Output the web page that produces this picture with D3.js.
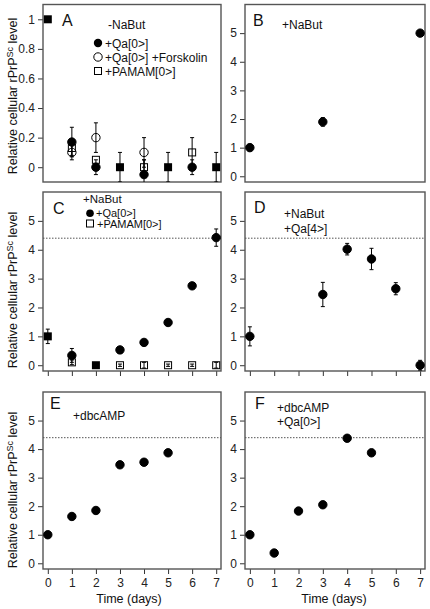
<!DOCTYPE html>
<html><head><meta charset="utf-8">
<script src="https://cdn.jsdelivr.net/npm/d3@7"></script>
<style>body{margin:0;background:#fff}svg{display:block;font-family:"Liberation Sans",Arial,sans-serif}</style>
</head><body><svg id="c" width="430" height="609"></svg>
<script>
const days = [0,1,2,3,4,5,6,7];
const ticksA = [0,0.2,0.4,0.6,0.8,1];
const tickLabelsA = ["0","0.2","0.4","0.6","0.8","1"];
const ticks6 = [0,1,2,3,4,5];
const refLevel = 4.4;

// Panel A (-NaBut)
const A_ctrl = [1.0,null,null,0,null,0,null,0];
const A_ctrlErr = [0,null,null,0.1,null,0.1,null,0.1];
const A_qa = [null,0.17,0,null,-0.05,null,0,null];
const A_qaErr = [null,0.1,0.05,null,0.1,null,0.05,null];
const A_forsk = [null,0.10,0.20,null,0.10,null,null,null];
const A_forskErr = [null,0.05,0.1,null,0.1,null,null,null];
const A_pamam = [null,0.13,0.05,null,0,null,0.10,null];
const A_pamamErr = [null,0.05,0,null,0.05,null,0.1,null];
// Panel B (+NaBut)
const B_vals = [1.0,null,null,1.9,null,null,null,5.0];
const B_err = [0.12,null,null,0.15,null,null,null,0];
// Panel C
const C_ctrl = [1.0,null,0,null,null,null,null,null];
const C_ctrlErr = [0.25,null,0,null,null,null,null,null];
const C_qa = [null,0.34,null,0.53,0.79,1.48,2.75,4.42];
const C_qaErr = [null,0.24,null,0,0,0,0,0.3];
const C_pamam = [null,0.1,null,0,0,0,0,0];
const C_pamamErr = [null,0.08,null,0.04,0.1,0.04,0.04,0.1];
// Panel D
const D_vals = [1.0,null,null,2.45,4.02,3.68,2.65,0];
const D_err = [0.33,null,null,0.42,0.2,0.37,0.21,0.17];
// Panel E
const E_vals = [1.0,1.64,1.85,3.45,3.54,3.87,null,null];
// Panel F
const F_vals = [1.0,0.36,1.83,2.05,4.38,3.87,null,null];

const svg = d3.select("#c");
const cols = [[43,221],[245,425]];
const rows = [[4.5,182],[192,371],[392,569]];

function panel(ci, ri, yDomain, yTicks, yLabels, showXTicks, showXLabels){
  const [x0,x1] = cols[ci], [y0,y1] = rows[ri];
  const x = d3.scaleLinear().domain([-0.2,7.2]).range([x0,x1]);
  const y = d3.scaleLinear().domain(yDomain).range([y1,y0]);
  const g = svg.append("g");
  const yAx = d3.axisLeft(y).tickValues(yTicks).tickFormat((d,i)=>yLabels[i]).tickSize(5).tickPadding(3);
  const ga = g.append("g").attr("transform",`translate(${x0},0)`).call(yAx);
  ga.select(".domain").remove();
  ga.selectAll("line").attr("stroke","#333");
  ga.selectAll("text").attr("font-size",12).attr("fill","#222").attr("font-family","Liberation Sans, Arial");
  if(showXTicks){
    const xAx = d3.axisBottom(x).tickValues(days).tickSize(5).tickPadding(4).tickFormat(showXLabels? d3.format("d") : ()=>"");
    const gx = g.append("g").attr("transform",`translate(0,${y1})`).call(xAx);
    gx.select(".domain").remove();
    gx.selectAll("line").attr("stroke","#333");
    gx.selectAll("text").attr("font-size",12).attr("fill","#222").attr("font-family","Liberation Sans, Arial");
  }
  g.append("rect").attr("x",x0).attr("y",y0).attr("width",x1-x0).attr("height",y1-y0)
    .attr("fill","none").attr("stroke","#555").attr("stroke-width",1.4);
  const clip = "clip"+ci+ri;
  svg.append("clipPath").attr("id",clip).append("rect").attr("x",x0).attr("y",y0).attr("width",x1-x0).attr("height",y1-y0);
  const inner = g.append("g").attr("clip-path",`url(#${clip})`);
  return {x,y,g,inner};
}

function errbars(p, vals, errs){
  days.forEach((d,i)=>{
    if(vals[i]==null || !errs || !errs[i]) return;
    const cx = p.x(d), yt = p.y(vals[i]+errs[i]), yb = p.y(vals[i]-errs[i]);
    p.inner.append("line").attr("x1",cx).attr("x2",cx).attr("y1",yt).attr("y2",yb).attr("stroke","#000").attr("stroke-width",1);
    [yt,yb].forEach(yy=>p.inner.append("line").attr("x1",cx-2).attr("x2",cx+2).attr("y1",yy).attr("y2",yy).attr("stroke","#000").attr("stroke-width",1));
  });
}
function circles(p, vals, filled, r){
  days.forEach((d,i)=>{
    if(vals[i]==null) return;
    p.inner.append("circle").attr("cx",p.x(d)).attr("cy",p.y(vals[i])).attr("r",r||4.2)
      .attr("fill",filled?"#000":"none").attr("stroke","#000").attr("stroke-width",1);
  });
}
function squares(p, vals, filled, s){
  s = s||8;
  days.forEach((d,i)=>{
    if(vals[i]==null) return;
    p.inner.append("rect").attr("x",p.x(d)-s/2).attr("y",p.y(vals[i])-s/2).attr("width",s).attr("height",s)
      .attr("fill",filled?"#000":"none").attr("stroke","#000").attr("stroke-width",filled?0:1);
  });
}
function refLine(p){
  p.inner.append("line").attr("x1",p.x.range()[0]).attr("x2",p.x.range()[1])
    .attr("y1",p.y(refLevel)).attr("y2",p.y(refLevel)).attr("stroke","#555").attr("stroke-width",1).attr("stroke-dasharray","1.5,1.5");
}
function txt(t,x,y,size){ return svg.append("text").attr("x",x).attr("y",y).attr("font-size",size||12).attr("fill","#111").text(t); }

// A
const pA = panel(0,0,[-0.1,1.1],ticksA,tickLabelsA,false,false);
errbars(pA,A_forsk,A_forskErr); errbars(pA,A_qa,A_qaErr); errbars(pA,A_pamam,A_pamamErr); errbars(pA,A_ctrl,A_ctrlErr);
squares(pA,A_pamam,false,7); circles(pA,A_forsk,false,4.2); circles(pA,A_qa,true,4.2); squares(pA,A_ctrl,true,8);
txt("A",62,26,16); txt("-NaBut",108,29);
svg.append("circle").attr("cx",98).attr("cy",43).attr("r",4.2).attr("fill","#000");
txt("+Qa[0>]",105,47.5);
svg.append("circle").attr("cx",98).attr("cy",57).attr("r",4.2).attr("fill","none").attr("stroke","#000");
txt("+Qa[0>] +Forskolin",105,61.5);
svg.append("rect").attr("x",94.5).attr("y",67.5).attr("width",7).attr("height",7).attr("fill","none").attr("stroke","#000");
txt("+PAMAM[0>]",105,75.5);

// B
const pB = panel(1,0,[-0.2,6],ticks6,ticks6.map(String),false,false);
errbars(pB,B_vals,B_err); circles(pB,B_vals,true,4.2);
txt("B",253,26,16); txt("+NaBut",282,28.5);

// C
const pC = panel(0,1,[-0.2,6],ticks6,ticks6.map(String),true,false);
refLine(pC);
errbars(pC,C_pamam,C_pamamErr); errbars(pC,C_ctrl,C_ctrlErr); errbars(pC,C_qa,C_qaErr);
squares(pC,C_pamam,false,7); squares(pC,C_ctrl,true,8); circles(pC,C_qa,true,4.2);
txt("C",53,214,16); txt("+NaBut",83,203,11.5);
svg.append("circle").attr("cx",90).attr("cy",213.3).attr("r",3.8).attr("fill","#000");
txt("+Qa[0>]",96,217.3,11);
svg.append("rect").attr("x",86.5).attr("y",220).attr("width",7).attr("height",7).attr("fill","none").attr("stroke","#000");
txt("+PAMAM[0>]",97,227.8,11);

// D
const pD = panel(1,1,[-0.2,6],ticks6,ticks6.map(String),true,false);
refLine(pD);
errbars(pD,D_vals,D_err); circles(pD,D_vals,true,4.2);
txt("D",254,213,16); txt("+NaBut",284,217.5); txt("+Qa[4>]",284,232.5);

// E
const pE = panel(0,2,[-0.2,6],ticks6,ticks6.map(String),true,true);
refLine(pE); circles(pE,E_vals,true,4.2);
txt("E",50,409,16); txt("+dbcAMP",73,419.5);

// F
const pF = panel(1,2,[-0.2,6],ticks6,ticks6.map(String),true,true);
refLine(pF); circles(pF,F_vals,true,4.2);
txt("F",255,409,16); txt("+dbcAMP",277,411.5); txt("+Qa[0>]",277,426);

// Y labels
[96,290,490].forEach(cy=>{
  const t = svg.append("text").attr("transform",`translate(17,${cy}) rotate(-90)`).attr("text-anchor","middle")
    .attr("font-size",12.5).attr("fill","#111");
  t.append("tspan").text("Relative cellular rPrP");
  t.append("tspan").attr("font-size",9).attr("dy",-4.5).text("Sc");
  t.append("tspan").attr("dy",4.5).text(" level");
});
// X labels
svg.append("text").attr("x",129).attr("y",603).attr("text-anchor","middle").attr("font-size",12.5).attr("fill","#111").text("Time (days)");
svg.append("text").attr("x",334).attr("y",603).attr("text-anchor","middle").attr("font-size",12.5).attr("fill","#111").text("Time (days)");
</script></body></html>
